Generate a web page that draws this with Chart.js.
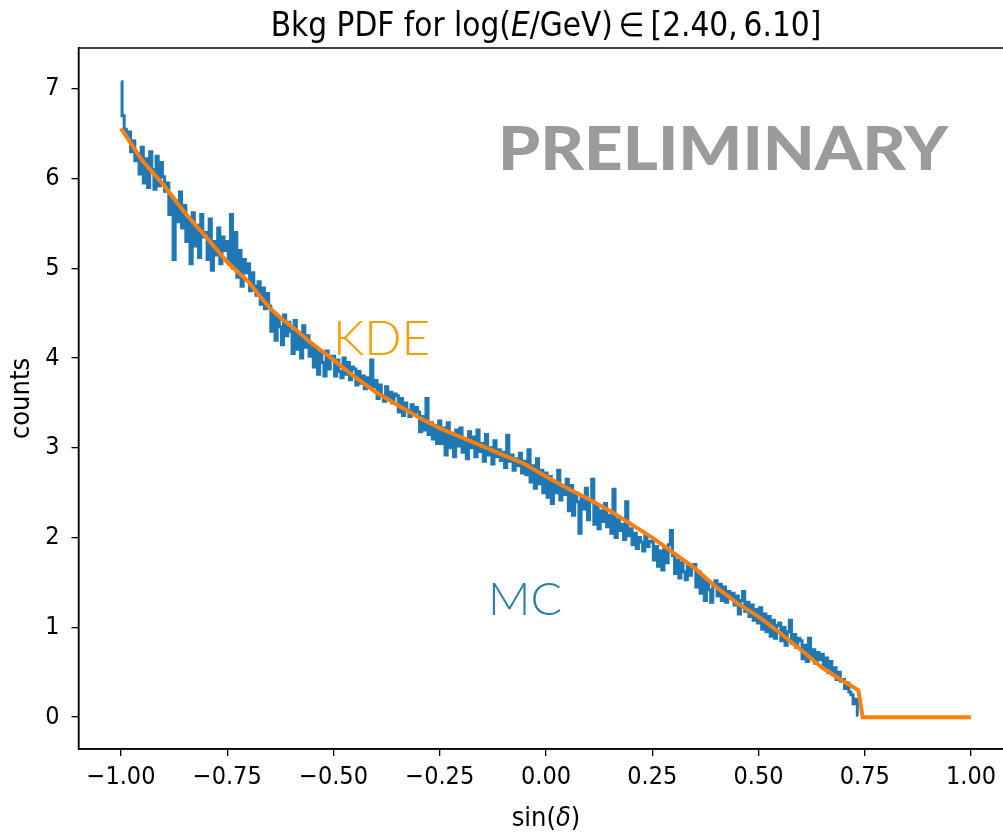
<!DOCTYPE html>
<html>
<head>
<meta charset="utf-8">
<script src="https://cdn.jsdelivr.net/npm/chart.js@4/dist/chart.umd.min.js"></script>
<style>
  html, body { margin: 0; padding: 0; background: #fff; overflow: hidden; }
  #wrap { width: 1003px; height: 832px; overflow: hidden; }
  canvas { display: block; }
</style>
</head>
<body>
<div id="wrap"><canvas id="c" width="1040" height="832"></canvas></div>
<script>
// ---------- data ----------
const xTickValues = [-1.0, -0.75, -0.5, -0.25, 0.0, 0.25, 0.5, 0.75, 1.0];
const yTickValues = [0, 1, 2, 3, 4, 5, 6, 7];

// KDE curve (sin(delta), counts)
const kdeX = [-1.0, -0.95, -0.9, -0.85, -0.8, -0.75, -0.7, -0.675, -0.65, -0.625, -0.6, -0.55, -0.5, -0.45, -0.4, -0.35, -0.3, -0.25, -0.2, -0.15, -0.1, -0.05, 0.0, 0.05, 0.1, 0.15, 0.2, 0.25, 0.3, 0.35, 0.4, 0.45, 0.5, 0.55, 0.6, 0.65, 0.7, 0.735, 0.745, 1.0];
const kdeY = [6.56, 6.20, 5.93, 5.62, 5.35, 5.07, 4.85, 4.70, 4.56, 4.45, 4.36, 4.16, 3.98, 3.79, 3.62, 3.48, 3.34, 3.22, 3.12, 3.02, 2.92, 2.82, 2.68, 2.55, 2.43, 2.30, 2.15, 2.00, 1.83, 1.66, 1.45, 1.27, 1.12, 0.94, 0.75, 0.55, 0.40, 0.30, 0.0, 0.0];

// MC histogram: bins of width 0.005 starting at sin(delta) = -1
const mcStart = -1.0;
const mcStep = 0.005;
const mcCounts = [
  7.08, 6.70, 6.55, 6.48, 6.52, 6.30, 6.42, 6.20, 6.28, 6.05,
  6.35, 5.95, 6.22, 5.90, 6.30, 6.10, 5.88, 6.25, 5.92, 6.18,
  6.02, 5.86, 5.95, 5.60, 5.80, 5.10, 5.75, 5.52, 5.85, 5.45,
  5.70, 5.30, 5.55, 5.05, 5.62, 5.25, 5.48, 5.12, 5.60, 5.35,
  5.40, 5.10, 5.55, 4.98, 5.30, 5.15, 5.45, 5.05, 5.35, 5.20,
  5.30, 5.05, 5.60, 5.00, 5.40, 4.90, 5.20, 4.80, 5.10, 4.95,
  5.05, 4.75, 4.95, 4.80, 4.70, 4.85, 4.60, 4.78, 4.55, 4.72,
  4.58, 4.30, 4.50, 4.20, 4.45, 4.35, 4.15, 4.48, 4.25, 4.40,
  4.30, 4.05, 4.42, 4.10, 4.28, 4.00, 4.36, 4.12, 4.25, 4.02,
  4.15, 3.90, 4.10, 3.82, 4.05, 3.95, 3.80, 4.08, 3.88, 4.00,
  4.02, 3.80, 3.98, 3.85, 3.78, 4.00, 3.82, 3.95, 3.76, 3.90,
  3.88, 3.70, 3.85, 3.72, 3.80, 3.66, 3.78, 3.70, 3.98, 3.68,
  3.75, 3.55, 3.70, 3.58, 3.52, 3.68, 3.54, 3.62, 3.50, 3.60,
  3.58, 3.40, 3.55, 3.36, 3.50, 3.42, 3.35, 3.48, 3.38, 3.45,
  3.40, 3.18, 3.35, 3.20, 3.55, 3.15, 3.28, 3.10, 3.25, 3.05,
  3.30, 3.05, 3.22, 2.92, 3.28, 3.00, 3.15, 2.90, 3.20, 3.02,
  3.22, 2.95, 3.10, 2.88, 3.18, 3.00, 3.12, 2.90, 3.20, 2.96,
  3.05, 2.85, 3.15, 2.92, 3.00, 2.82, 3.08, 2.90, 2.98, 2.86,
  2.95, 2.78, 3.14, 2.85, 2.92, 2.75, 2.88, 2.80, 2.94, 2.72,
  2.85, 2.70, 2.98, 2.62, 2.80, 2.55, 2.88, 2.60, 2.75, 2.50,
  2.72, 2.45, 2.68, 2.38, 2.60, 2.50, 2.75, 2.42, 2.58, 2.48,
  2.65, 2.30, 2.58, 2.25, 2.50, 2.40, 2.05, 2.45, 2.32, 2.55,
  2.20, 2.40, 2.65, 2.15, 2.35, 2.10, 2.30, 2.18, 2.38, 2.12,
  2.25, 2.05, 2.54, 2.00, 2.20, 2.08, 2.15, 1.98, 2.40, 2.02,
  2.10, 1.92, 2.05, 1.88, 2.00, 1.95, 1.85, 2.02, 1.90, 1.96,
  1.95, 1.75, 1.90, 1.68, 1.85, 1.64, 1.88, 1.72, 1.92, 2.08,
  1.80, 1.60, 1.75, 1.55, 1.72, 1.62, 1.53, 1.70, 1.58, 1.66,
  1.70, 1.45, 1.62, 1.38, 1.55, 1.30, 1.50, 1.42, 1.28, 1.48,
  1.52, 1.35, 1.48, 1.30, 1.45, 1.28, 1.40, 1.33, 1.38, 1.25,
  1.35, 1.15, 1.30, 1.40, 1.18, 1.28, 1.12, 1.25, 1.08, 1.20,
  1.05, 1.22, 0.98, 1.15, 0.95, 1.12, 0.90, 1.08, 0.88, 1.02,
  1.05, 0.85, 1.00, 0.80, 0.95, 1.08, 0.82, 0.92, 0.78, 0.88,
  0.85, 0.65, 0.80, 0.62, 0.88, 0.68, 0.75, 0.60, 0.72, 0.64,
  0.70, 0.55, 0.66, 0.50, 0.62, 0.48, 0.55, 0.42, 0.50, 0.40,
  0.42, 0.32, 0.38, 0.28, 0.25, 0.15, 0.20, 0.02
];

// ---------- build points ----------
const kdePoints = kdeX.map((x, i) => ({ x: x, y: kdeY[i] }));
const mcPoints = mcCounts.map((v, i) => ({ x: mcStart + i * mcStep, y: v }));

const TICK_FONT = "'DejaVu Sans Condensed', 'DejaVu Sans', sans-serif";

const fmtX = v => {
  const s = Math.abs(v).toFixed(2);
  return v < -1e-9 ? '\u2212' + s : s;
};

function drawSegs(ctx, segs, size, cx, y) {
  let tw = 0;
  segs.forEach(s => { ctx.font = s[1] + size + 'px ' + TICK_FONT; tw += ctx.measureText(s[0]).width; });
  let x = cx - tw / 2;
  segs.forEach(s => { ctx.font = s[1] + size + 'px ' + TICK_FONT; ctx.fillText(s[0], x, y); x += ctx.measureText(s[0]).width; });
}

const textPlugin = {
  id: 'texts',
  afterDraw(chart) {
    const ctx = chart.ctx;
    const a = chart.chartArea;
    ctx.save();
    // frame
    ctx.strokeStyle = '#000';
    ctx.lineWidth = 1.5;
    ctx.strokeRect(a.left, a.top, a.right - a.left, a.bottom - a.top);

    const cx = (a.left + a.right) / 2;
    ctx.fillStyle = '#000';
    ctx.textBaseline = 'alphabetic';
    ctx.textAlign = 'left';
    // title with mixed italic
    drawSegs(ctx, [
      ['Bkg PDF for log(', ''],
      ['E', 'italic '],
      ['/GeV)', ''],
      ['\u2009\u2208\u2009', ''],
      ['[2.40,\u20096.10]', '']
    ], 33, cx, 36);

    // x label sin(δ)
    drawSegs(ctx, [['sin(', ''], ['\u03B4', 'italic '], [')', '']], 27, cx, 826);

    // y label
    ctx.save();
    ctx.translate(29, (a.top + a.bottom) / 2);
    ctx.rotate(-Math.PI / 2);
    ctx.textAlign = 'center';
    ctx.font = '27px ' + TICK_FONT;
    ctx.fillText('counts', 0, 0);
    ctx.restore();

    // annotations
    ctx.textAlign = 'left';
    ctx.fillStyle = '#9b9b9b';
    ctx.font = '900 60px Lato, sans-serif';
    const pw = ctx.measureText('PRELIMINARY').width;
    ctx.save();
    ctx.translate(498, 170);
    ctx.scale(450 / pw, 1);
    ctx.fillText('PRELIMINARY', 0, 0);
    ctx.restore();

    ctx.fillStyle = '#ff9a00';
    ctx.font = '300 47px Lato, sans-serif';
    const kw = ctx.measureText('KDE').width;
    ctx.save();
    ctx.translate(333, 355);
    ctx.scale(97 / kw, 1);
    ctx.fillText('KDE', 0, 0);
    ctx.restore();

    ctx.fillStyle = '#2a7fa6';
    ctx.font = '300 45px Lato, sans-serif';
    const mw = ctx.measureText('MC').width;
    ctx.save();
    ctx.translate(488, 615);
    ctx.scale(74 / mw, 1);
    ctx.fillText('MC', 0, 0);
    ctx.restore();

    ctx.restore();
  }
};

new Chart(document.getElementById('c'), {
  type: 'line',
  data: {
    datasets: [
      { label: 'KDE', data: kdePoints, borderColor: '#ff7f0e', borderWidth: 4, pointRadius: 0, tension: 0, fill: false },
      { label: 'MC', data: mcPoints, borderColor: '#1f77b4', borderWidth: 3, pointRadius: 0, tension: 0, stepped: 'middle', fill: false }
    ]
  },
  options: {
    responsive: false,
    animation: false,
    devicePixelRatio: 1,
    layout: { padding: { top: 48, left: 0, right: 26.5, bottom: 0 } },
    plugins: { legend: { display: false }, tooltip: { enabled: false }, title: { display: false } },
    scales: {
      x: {
        type: 'linear',
        min: -1.1, max: 1.1,
        afterBuildTicks: s => { s.ticks = xTickValues.map(v => ({ value: v })); },
        afterFit: s => { s.height = 83; },
        ticks: { callback: v => fmtX(v), color: '#000', font: { family: TICK_FONT, size: 25 }, padding: 6, maxRotation: 0, autoSkip: false },
        grid: { display: true, drawOnChartArea: false, drawTicks: true, tickLength: 7, color: '#000', lineWidth: 1.3 },
        border: { display: true, color: '#000', width: 1.5 }
      },
      y: {
        type: 'linear',
        min: -0.355, max: 7.455,
        afterBuildTicks: s => { s.ticks = yTickValues.map(v => ({ value: v })); },
        afterFit: s => { s.width = 78.5; },
        ticks: { callback: v => String(v), color: '#000', font: { family: TICK_FONT, size: 25 }, padding: 12, autoSkip: false },
        grid: { display: true, drawOnChartArea: false, drawTicks: true, tickLength: 7, color: '#000', lineWidth: 1.3 },
        border: { display: true, color: '#000', width: 1.5 }
      }
    }
  },
  plugins: [textPlugin]
});
</script>
</body>
</html>
